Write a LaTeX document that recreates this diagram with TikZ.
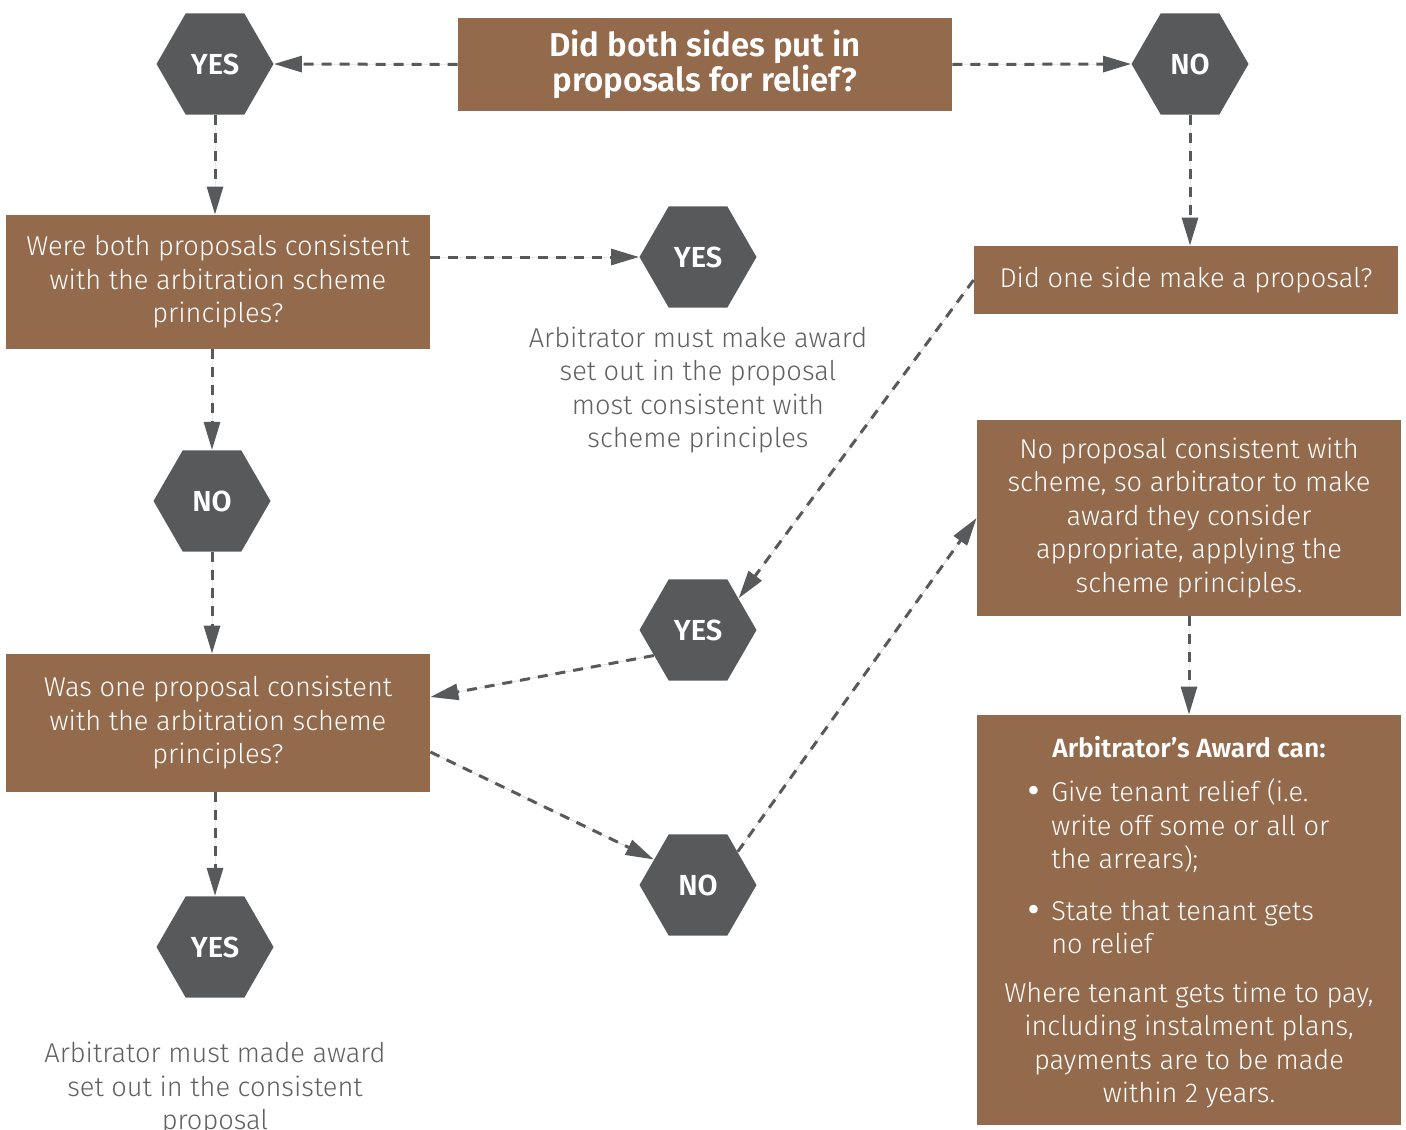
\documentclass[tikz,border=0pt]{standalone}
\usepackage{fontspec}
\IfFontExistsTF{Fira Sans Light}{%
  \IfFontExistsTF{Fira Sans SemiBold}%
    {\setmainfont{Fira Sans Light}[BoldFont={Fira Sans SemiBold}]}%
    {\setmainfont{Fira Sans Light}[BoldFont={Fira Sans}]}}%
  {\setmainfont{Fira Sans}}
\usetikzlibrary{arrows.meta,shapes.geometric}
\definecolor{umber}{HTML}{946A4C}
\definecolor{slate}{HTML}{58595B}
\definecolor{notegray}{HTML}{606062}
\newcommand{\awbullet}{{\bfseries\fontsize{16}{16}\selectfont •}}

\begin{document}
\begin{tikzpicture}[x=.5pt,y=-.5pt,font=\fontsize{13.6}{16.75}\selectfont,
box/.style={fill=umber,text=white,align=center,minimum width=212pt,inner sep=0pt},
hexa/.style={regular polygon,regular polygon sides=6,fill=slate,minimum size=58.5pt,inner sep=0pt,text=white,font=\bfseries\fontsize{14.5}{16}\selectfont},
note/.style={text=notegray,align=center},
arr/.style={-{Triangle[length=14pt,width=8pt]},draw=slate,fill=slate,line width=1.5pt,dash pattern=on 5pt off 4pt}]
\useasboundingbox (0,0) rectangle (1406,1129);
% question row
\node[box,minimum width=247pt,minimum height=46.5pt,font=\bfseries\fontsize{16.5}{17.5}\selectfont](both) at (705,64.5){Did both sides put in\\proposals for relief?};
\node[hexa](yesA) at (215,64){YES};\node[hexa](noA) at (1190,64){NO};
% left branch
\node[box,minimum height=67pt](consBoth) at (218,282){Were both proposals consistent\\with the arbitration scheme\\principles?};
\node[hexa](yesB) at (698,257){YES};
\node[note](mostCons) at (698,390){Arbitrator must make award\\set out in the proposal\\most consistent with\\scheme principles};
\node[hexa](noB) at (212,501){NO};
\node[box,minimum height=69pt](consOne) at (218,723){Was one proposal consistent\\with the arbitration scheme\\principles?};
\node[hexa](yesD) at (215,947){YES};
\node[note](theCons) at (215,1089){Arbitrator must made award\\set out in the consistent\\proposal};
% right branch
\node[box,minimum height=34pt](oneSide) at (1186,280){Did one side make a proposal?};
\node[hexa](yesC) at (698,630){YES};\node[hexa](noC) at (698,885){NO};
\node[box,minimum height=98pt](noneCons) at (1189,518){No proposal consistent with\\scheme, so arbitrator to make\\award they consider\\appropriate, applying the\\scheme principles.};
\node[box,minimum height=205pt](award) at (1189,920){};
\node[text=white,font=\bfseries\fontsize{13.2}{15}\selectfont](awHead) at (1189,747){Arbitrator’s Award can:};
\node[text=white,anchor=west,inner sep=0pt,align=left](awList) at (1028,871){\begin{tabular}{@{}l@{\hspace{6pt}}l@{}}\awbullet&Give tenant relief (i.e.\\&write off some or all or\\&the arrears);\\[9pt]\awbullet&State that tenant gets\\&no relief\end{tabular}};
\node[text=white,align=center](awNote) at (1189,1045){Where tenant gets time to pay,\\including instalment plans,\\payments are to be made\\within 2 years.};
% connectors
\draw[arr](both.west)--(yesA.east);\draw[arr](both.east)--(noA.west);
\draw[arr](yesA.south)--(yesA.south|-consBoth.north);
\draw[arr](noA.south)--(noA.south|-oneSide.north);
\draw[arr](consBoth.east|-yesB.west)--(yesB.west);
\draw[arr](noB.north|-consBoth.south)--(noB.north);
\draw[arr](noB.south)--(noB.south|-consOne.north);
\draw[arr](yesD.north|-consOne.south)--(yesD.north);
\draw[arr](oneSide.west)--(yesC.38);
\draw[arr](yesC.210)--([yshift=13pt]consOne.east);
\draw[arr]([yshift=-14.5pt]consOne.east)--(noC.150);
\draw[arr](noC.40)--(noneCons.west);
\draw[arr](noneCons.south)--(noneCons.south|-award.north);
\end{tikzpicture}
\end{document}
